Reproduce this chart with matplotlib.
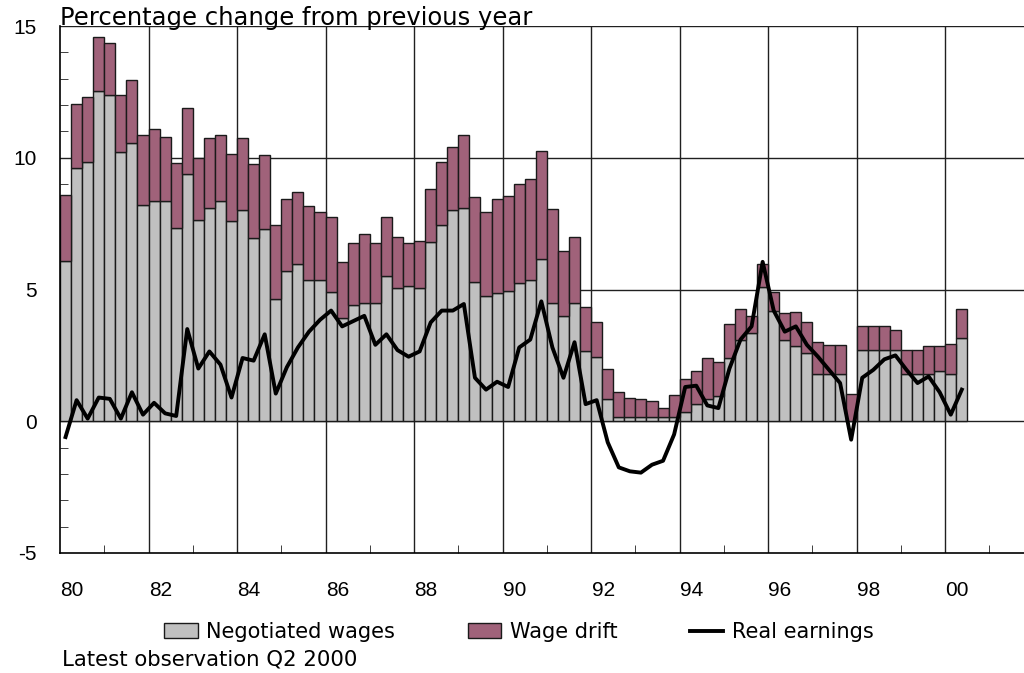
import matplotlib
matplotlib.use("Agg")
import matplotlib.pyplot as plt
from matplotlib.patches import Patch
from matplotlib.lines import Line2D
from matplotlib.ticker import MultipleLocator, FixedLocator
import numpy as np

plt.rcParams['font.family'] = ['Liberation Sans', 'DejaVu Sans']

# quarterly data, 1980Q1 .. 2000Q2
start_year = 1980
negotiated = [
    6.1, 9.6, 9.85, 12.55, 12.4, 10.2, 10.55, 8.2, 8.35, 8.35,
    7.35, 9.4, 7.65, 8.1, 8.35, 7.6, 8.0, 6.95, 7.3, 4.65,
    5.7, 5.95, 5.35, 5.35, 4.9, 3.9, 4.4, 4.5, 4.5, 5.5,
    5.05, 5.15, 5.05, 6.8, 7.45, 8.0, 8.1, 5.3, 4.75, 4.85,
    4.95, 5.25, 5.35, 6.15, 4.5, 4.0, 4.5, 2.65, 2.45, 0.85,
    0.15, 0.15, 0.15, 0.15, 0.15, 0.15, 0.35, 0.65, 0.85, 0.95,
    2.4, 3.1, 3.35, 5.1, 4.2, 3.1, 2.85, 2.6, 1.8, 1.8,
    1.8, 0.0, 2.7, 2.7, 2.7, 2.7, 1.8, 1.8, 1.8, 1.9,
    1.8, 3.15,
]
wage_drift = [
    2.5, 2.45, 2.45, 2.05, 1.95, 2.2, 2.4, 2.65, 2.75, 2.45,
    2.45, 2.5, 2.35, 2.65, 2.5, 2.55, 2.75, 2.8, 2.8, 2.8,
    2.75, 2.75, 2.8, 2.6, 2.85, 2.15, 2.35, 2.6, 2.25, 2.25,
    1.95, 1.6, 1.8, 2.0, 2.4, 2.4, 2.75, 3.2, 3.2, 3.6,
    3.6, 3.75, 3.85, 4.1, 3.55, 2.45, 2.5, 1.7, 1.3, 1.15,
    0.95, 0.75, 0.7, 0.6, 0.35, 0.85, 1.25, 1.25, 1.55, 1.3,
    1.3, 1.15, 0.65, 0.85, 0.7, 1.0, 1.3, 1.15, 1.2, 1.1,
    1.1, 1.05, 0.9, 0.9, 0.9, 0.75, 0.9, 0.9, 1.05, 0.95,
    1.15, 1.1,
]
real_earnings = [
    -0.6, 0.8, 0.1, 0.9, 0.85, 0.1, 1.1, 0.25, 0.7, 0.3,
    0.2, 3.5, 2.0, 2.65, 2.15, 0.9, 2.4, 2.3, 3.3, 1.05,
    2.05, 2.8, 3.4, 3.85, 4.2, 3.6, 3.8, 4.0, 2.9, 3.3,
    2.7, 2.45, 2.65, 3.75, 4.2, 4.2, 4.45, 1.65, 1.2, 1.5,
    1.3, 2.8, 3.1, 4.55, 2.8, 1.65, 3.0, 0.65, 0.8, -0.8,
    -1.75, -1.9, -1.95, -1.65, -1.5, -0.5, 1.3, 1.35, 0.6, 0.5,
    2.0, 3.1, 3.6, 6.05, 4.2, 3.4, 3.6, 2.9, 2.45, 1.95,
    1.45, -0.7, 1.65, 1.95, 2.35, 2.5, 1.95, 1.45, 1.7, 1.1,
    0.25, 1.2,
]
year_labels = ["80", "82", "84", "86", "88", "90", "92", "94", "96", "98", "00"]
label_years = [1980, 1982, 1984, 1986, 1988, 1990, 1992, 1994, 1996, 1998, 2000]

GREY = "#c0c0c0"
MAUVE = "#a0627a"
WIDE = ['DejaVu Sans']

n = len(negotiated)
x = start_year + 0.25 * np.arange(n) + 0.125

fig = plt.figure(figsize=(10.24, 6.73), dpi=100)
ax = fig.add_axes([60 / 1024, 1 - 553 / 673, 964 / 1024, 527 / 673])

ax.bar(x, negotiated, width=0.25, color=GREY, edgecolor="#1a1a1a", linewidth=1.0, zorder=2)
ax.bar(x, wage_drift, width=0.25, bottom=negotiated, color=MAUVE, edgecolor="#1a1a1a",
       linewidth=1.0, zorder=2)
ax.plot(x, real_earnings, color="black", lw=2.8, zorder=3)

ax.set_xlim(1980, 2001.78)
ax.set_ylim(-5, 15)

# grid
for yv in [0, 5, 10, 15]:
    ax.axhline(yv, color="#202020", lw=1.0, zorder=1)
for yr in label_years[1:]:
    ax.axvline(yr, color="#202020", lw=1.0, zorder=1)

for s in ["top", "right"]:
    ax.spines[s].set_visible(False)
for s in ["left", "bottom"]:
    ax.spines[s].set_color("black")
    ax.spines[s].set_linewidth(1.2)

ax.yaxis.set_major_locator(FixedLocator([-5, 0, 5, 10, 15]))
ax.yaxis.set_minor_locator(MultipleLocator(1))
ax.set_yticklabels(["-5", "0", "5", "10", "15"], fontsize=15)
ax.tick_params(axis="y", which="major", length=0, pad=16.5)
ax.tick_params(axis="y", which="minor", direction="in", length=6, color="#202020")

ax.xaxis.set_major_locator(FixedLocator([y + 0.27 for y in label_years]))
ax.set_xticklabels(year_labels, fontsize=15)
ax.xaxis.set_minor_locator(FixedLocator(list(range(1981, 2002, 2))))
ax.tick_params(axis="x", which="major", length=0, pad=20)
ax.tick_params(axis="x", which="minor", direction="in", length=6, color="#202020")

fig.text(60 / 1024, 1 - 25 / 673, "Percentage change from previous year", fontsize=17.5,
         family=WIDE, ha="left", va="baseline")

handles = [
    Patch(facecolor=GREY, edgecolor="#1a1a1a", label="Negotiated wages"),
    Patch(facecolor=MAUVE, edgecolor="#1a1a1a", label="Wage drift"),
    Line2D([0], [0], color="black", lw=2.8, label="Real earnings"),
]
fig.legend(handles=handles, loc="center", bbox_to_anchor=(519 / 1024, 1 - 632 / 673),
           ncol=3, frameon=False, prop={'family': WIDE, 'size': 15},
           handlelength=1.6, handleheight=0.7, handletextpad=0.4, columnspacing=3.5)

fig.text(62 / 1024, 1 - 659 / 673, "Latest observation Q2 2000", fontsize=15.3,
         family=WIDE, ha="left", va="center")

fig.savefig("out.png", dpi=100)
